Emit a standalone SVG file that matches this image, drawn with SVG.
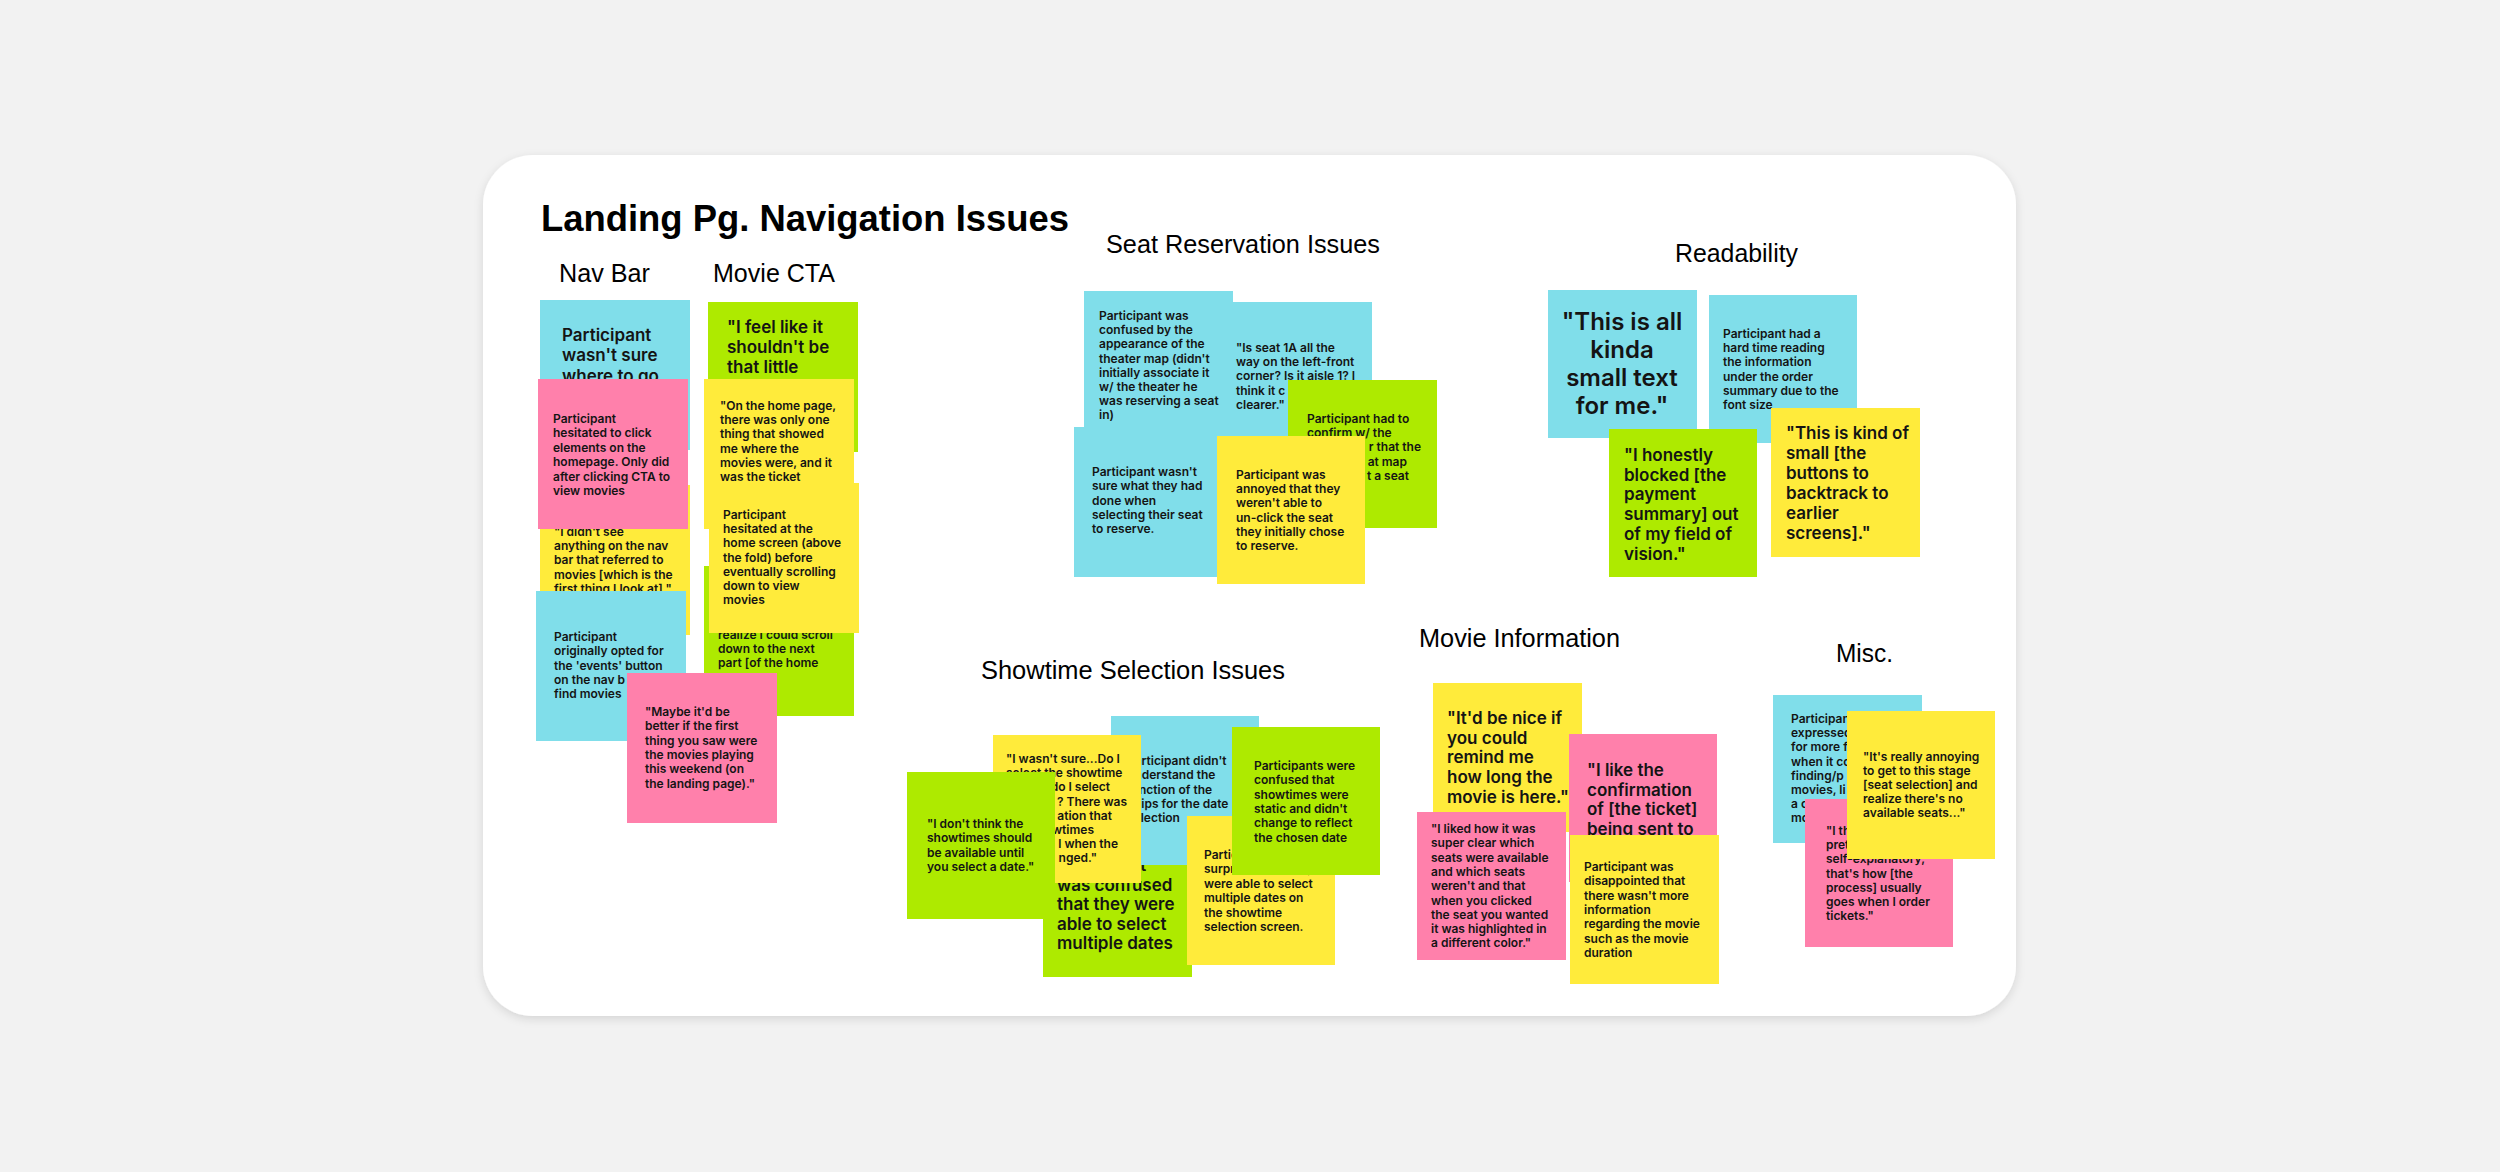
<svg xmlns="http://www.w3.org/2000/svg" width="2500" height="1172" viewBox="0 0 2500 1172">
<style>
.bg{fill:#f2f2f2}
.card{fill:#ffffff}
.b{fill:#80deea}
.p{fill:#ff80ab}
.g{fill:#aeea00}
.y{fill:#ffeb3b}
text{font-family:"Inter","Open Sans","Liberation Sans",sans-serif;font-weight:600;fill:#141414}
.s{font-size:12px}
.m{font-size:17px}
.l{font-size:24px}
.h{font-family:"Liberation Sans",Arial,sans-serif;font-weight:400;font-size:25px;fill:#000}
.t{font-family:"Liberation Sans",Arial,sans-serif;font-weight:700;font-size:36px;fill:#000}
.e{text-anchor:end}
.c{text-anchor:middle}
</style>
<defs>
<filter id="sh" x="-5%" y="-5%" width="110%" height="115%">
<feDropShadow dx="0" dy="3" stdDeviation="5" flood-color="#000" flood-opacity="0.12"/>
</filter>
</defs>
<rect class="bg" x="0" y="0" width="2500" height="1172"/>
<rect class="card" x="483" y="155" width="1533" height="861" rx="50" ry="50" filter="url(#sh)"/>

<g id="headings">
<text class="t" x="541" y="231" textLength="528" lengthAdjust="spacingAndGlyphs">Landing Pg. Navigation Issues</text>
<text class="h" x="559" y="282" textLength="91" lengthAdjust="spacingAndGlyphs">Nav Bar</text>
<text class="h" x="713" y="282" textLength="122" lengthAdjust="spacingAndGlyphs">Movie CTA</text>
<text class="h" x="1106" y="253" textLength="274" lengthAdjust="spacingAndGlyphs">Seat Reservation Issues</text>
<text class="h" x="1675" y="262" textLength="123" lengthAdjust="spacingAndGlyphs">Readability</text>
<text class="h" x="981" y="679" textLength="304" lengthAdjust="spacingAndGlyphs">Showtime Selection Issues</text>
<text class="h" x="1419" y="647" textLength="201" lengthAdjust="spacingAndGlyphs">Movie Information</text>
<text class="h" x="1836" y="662" textLength="57" lengthAdjust="spacingAndGlyphs">Misc.</text>
</g>

<g id="connectors"></g>

<!-- Nav Bar -->
<g id="nav-1">
<rect class="b" x="540" y="300" width="150" height="150"/>
<text class="m" x="562" y="341"><tspan x="562">Participant</tspan><tspan x="562" dy="20.3">wasn't sure</tspan><tspan x="562" dy="20.3">where to go</tspan></text>
</g>
<g id="nav-3">
<rect class="y" x="540" y="485" width="150" height="150"/>
<text class="s" x="554" y="536"><tspan x="554">"I didn't see</tspan><tspan x="554" dy="14.2">anything on the nav</tspan><tspan x="554" dy="14.2">bar that referred to</tspan><tspan x="554" dy="14.2">movies [which is the</tspan><tspan x="554" dy="14.2">first thing I look at]."</tspan></text>
</g>
<g id="nav-2">
<rect class="p" x="538" y="379" width="150" height="150"/>
<text class="s" x="553" y="423"><tspan x="553">Participant</tspan><tspan x="553" dy="14.4">hesitated to click</tspan><tspan x="553" dy="14.4">elements on the</tspan><tspan x="553" dy="14.4">homepage. Only did</tspan><tspan x="553" dy="14.4">after clicking CTA to</tspan><tspan x="553" dy="14.4">view movies</tspan></text>
</g>
<g id="nav-4">
<rect class="b" x="536" y="591" width="150" height="150"/>
<text class="s" x="554" y="641"><tspan x="554">Participant</tspan><tspan x="554" dy="14.3">originally opted for</tspan><tspan x="554" dy="14.3">the 'events' button</tspan><tspan x="554" dy="14.3">on the nav b</tspan><tspan x="554" dy="14.3">find movies</tspan></text>
</g>

<!-- Movie CTA -->
<g id="cta-1">
<rect class="g" x="708" y="302" width="150" height="150"/>
<text class="m" x="727" y="333"><tspan x="727">"I feel like it</tspan><tspan x="727" dy="20">shouldn't be</tspan><tspan x="727" dy="20">that little</tspan></text>
</g>
<g id="cta-2">
<rect class="y" x="704" y="379" width="150" height="150"/>
<text class="s" x="720" y="410"><tspan x="720">"On the home page,</tspan><tspan x="720" dy="14.2">there was only one</tspan><tspan x="720" dy="14.2">thing that showed</tspan><tspan x="720" dy="14.2">me where the</tspan><tspan x="720" dy="14.2">movies were, and it</tspan><tspan x="720" dy="14.2">was the ticket</tspan></text>
</g>
<g id="cta-4">
<rect class="g" x="704" y="566" width="150" height="150"/>
<text class="s" x="718" y="639"><tspan x="718">realize I could scroll</tspan><tspan x="718" dy="14">down to the next</tspan><tspan x="718" dy="14">part [of the home</tspan></text>
</g>
<g id="cta-3">
<rect class="y" x="709" y="483" width="150" height="150"/>
<text class="s" x="723" y="519"><tspan x="723">Participant</tspan><tspan x="723" dy="14.2">hesitated at the</tspan><tspan x="723" dy="14.2">home screen (above</tspan><tspan x="723" dy="14.2">the fold) before</tspan><tspan x="723" dy="14.2">eventually scrolling</tspan><tspan x="723" dy="14.2">down to view</tspan><tspan x="723" dy="14.2">movies</tspan></text>
</g>
<g id="nav-5">
<rect class="p" x="627" y="673" width="150" height="150"/>
<text class="s" x="645" y="716"><tspan x="645">"Maybe it'd be</tspan><tspan x="645" dy="14.3">better if the first</tspan><tspan x="645" dy="14.3">thing you saw were</tspan><tspan x="645" dy="14.3">the movies playing</tspan><tspan x="645" dy="14.3">this weekend (on</tspan><tspan x="645" dy="14.3">the landing page)."</tspan></text>
</g>

<!-- Seat Reservation -->
<g id="seat-2">
<rect class="b" x="1221" y="302" width="151" height="150"/>
<text class="s" x="1236" y="352"><tspan x="1236">"Is seat 1A all the</tspan><tspan x="1236" dy="14.2">way on the left-front</tspan><tspan x="1236" dy="14.2">corner? Is it aisle 1? I</tspan><tspan x="1236" dy="14.2">think it c</tspan><tspan x="1236" dy="14.2">clearer."</tspan></text>
</g>
<g id="seat-1">
<rect class="b" x="1084" y="291" width="149" height="150"/>
<text class="s" x="1099" y="320"><tspan x="1099">Participant was</tspan><tspan x="1099" dy="14.2">confused by the</tspan><tspan x="1099" dy="14.2">appearance of the</tspan><tspan x="1099" dy="14.2">theater map (didn't</tspan><tspan x="1099" dy="14.2">initially associate it</tspan><tspan x="1099" dy="14.2">w/ the theater he</tspan><tspan x="1099" dy="14.2">was reserving a seat</tspan><tspan x="1099" dy="14.2">in)</tspan></text>
</g>
<g id="seat-3">
<rect class="b" x="1074" y="427" width="150" height="150"/>
<text class="s" x="1092" y="476"><tspan x="1092">Participant wasn't</tspan><tspan x="1092" dy="14.3">sure what they had</tspan><tspan x="1092" dy="14.3">done when</tspan><tspan x="1092" dy="14.3">selecting their seat</tspan><tspan x="1092" dy="14.3">to reserve.</tspan></text>
</g>
<g id="seat-4">
<rect class="g" x="1288" y="380" width="149" height="148"/>
<text class="s" x="1307" y="423"><tspan x="1307">Participant had to</tspan><tspan x="1307" dy="14.3">confirm w/ the</tspan></text>
<text class="s e" x="1421" y="451">r that the</text>
<text class="s e" x="1407" y="466">at map</text>
<text class="s e" x="1409" y="480">t a seat</text>
</g>
<g id="seat-5">
<rect class="y" x="1217" y="436" width="148" height="148"/>
<text class="s" x="1236" y="479"><tspan x="1236">Participant was</tspan><tspan x="1236" dy="14.2">annoyed that they</tspan><tspan x="1236" dy="14.2">weren't able to</tspan><tspan x="1236" dy="14.2">un-click the seat</tspan><tspan x="1236" dy="14.2">they initially chose</tspan><tspan x="1236" dy="14.2">to reserve.</tspan></text>
</g>

<!-- Readability -->
<g id="read-1">
<rect class="b" x="1548" y="290" width="149" height="148"/>
<text class="l c" x="1622" y="330"><tspan x="1622">"This is all</tspan><tspan x="1622" dy="28">kinda</tspan><tspan x="1622" dy="28">small text</tspan><tspan x="1622" dy="28">for me."</tspan></text>
</g>
<g id="read-2">
<rect class="b" x="1709" y="295" width="148" height="148"/>
<text class="s" x="1723" y="338"><tspan x="1723">Participant had a</tspan><tspan x="1723" dy="14.2">hard time reading</tspan><tspan x="1723" dy="14.2">the information</tspan><tspan x="1723" dy="14.2">under the order</tspan><tspan x="1723" dy="14.2">summary due to the</tspan><tspan x="1723" dy="14.2">font size</tspan></text>
</g>
<g id="read-3">
<rect class="g" x="1609" y="429" width="148" height="148"/>
<text class="m" x="1624" y="461"><tspan x="1624">"I honestly</tspan><tspan x="1624" dy="19.7">blocked [the</tspan><tspan x="1624" dy="19.7">payment</tspan><tspan x="1624" dy="19.7">summary] out</tspan><tspan x="1624" dy="19.7">of my field of</tspan><tspan x="1624" dy="19.7">vision."</tspan></text>
</g>
<g id="read-4">
<rect class="y" x="1771" y="408" width="149" height="149"/>
<text class="m" x="1786" y="439"><tspan x="1786">"This is kind of</tspan><tspan x="1786" dy="20">small [the</tspan><tspan x="1786" dy="20">buttons to</tspan><tspan x="1786" dy="20">backtrack to</tspan><tspan x="1786" dy="20">earlier</tspan><tspan x="1786" dy="20">screens]."</tspan></text>
</g>

<!-- Showtime Selection -->
<g id="show-3">
<rect class="g" x="1043" y="827" width="149" height="150"/>
<text class="m" x="1057" y="871"><tspan x="1057">Participant</tspan><tspan x="1057" dy="19.5">was confused</tspan><tspan x="1057" dy="19.5">that they were</tspan><tspan x="1057" dy="19.5">able to select</tspan><tspan x="1057" dy="19.5">multiple dates</tspan></text>
</g>
<g id="show-2">
<rect class="b" x="1111" y="716" width="148" height="149"/>
<text class="s" x="1127" y="765"><tspan x="1127">Participant didn't</tspan><tspan x="1127" dy="14.3">understand the</tspan><tspan x="1127" dy="14.3">function of the</tspan><tspan x="1127" dy="14.3">chips for the date</tspan><tspan x="1127" dy="14.3">selection</tspan></text>
</g>
<g id="show-1">
<rect class="y" x="993" y="735" width="148" height="148"/>
<text class="s" x="1006" y="763"><tspan x="1006">"I wasn't sure...Do I</tspan><tspan x="1006" dy="14.2">select the showtime</tspan></text>
<text class="s e" x="1110" y="791">do I select</text>
<text class="s e" x="1127" y="806">? There was</text>
<text class="s e" x="1112" y="820">ation that</text>
<text class="s e" x="1094" y="834">wtimes</text>
<text class="s e" x="1118" y="848">l when the</text>
<text class="s e" x="1097" y="862">nged."</text>
</g>
<g id="show-4">
<rect class="g" x="907" y="772" width="148" height="147"/>
<text class="s" x="927" y="828"><tspan x="927">"I don't think the</tspan><tspan x="927" dy="14.4">showtimes should</tspan><tspan x="927" dy="14.4">be available until</tspan><tspan x="927" dy="14.4">you select a date."</tspan></text>
</g>
<g id="show-5">
<rect class="y" x="1187" y="816" width="148" height="149"/>
<text class="s" x="1204" y="859"><tspan x="1204">Participant was</tspan><tspan x="1204" dy="14.4">surprised that they</tspan><tspan x="1204" dy="14.4">were able to select</tspan><tspan x="1204" dy="14.4">multiple dates on</tspan><tspan x="1204" dy="14.4">the showtime</tspan><tspan x="1204" dy="14.4">selection screen.</tspan></text>
</g>
<g id="show-6">
<rect class="g" x="1232" y="727" width="148" height="148"/>
<text class="s" x="1254" y="770"><tspan x="1254">Participants were</tspan><tspan x="1254" dy="14.3">confused that</tspan><tspan x="1254" dy="14.3">showtimes were</tspan><tspan x="1254" dy="14.3">static and didn't</tspan><tspan x="1254" dy="14.3">change to reflect</tspan><tspan x="1254" dy="14.3">the chosen date</tspan></text>
</g>

<!-- Movie Information -->
<g id="info-1">
<rect class="y" x="1433" y="683" width="149" height="149"/>
<text class="m" x="1447" y="724"><tspan x="1447">"It'd be nice if</tspan><tspan x="1447" dy="19.7">you could</tspan><tspan x="1447" dy="19.7">remind me</tspan><tspan x="1447" dy="19.7">how long the</tspan><tspan x="1447" dy="19.7">movie is here."</tspan></text>
</g>
<g id="info-2">
<rect class="p" x="1569" y="734" width="148" height="148"/>
<text class="m" x="1587" y="776"><tspan x="1587">"I like the</tspan><tspan x="1587" dy="19.7">confirmation</tspan><tspan x="1587" dy="19.7">of [the ticket]</tspan><tspan x="1587" dy="19.7">being sent to</tspan></text>
</g>
<g id="info-3">
<rect class="p" x="1417" y="812" width="149" height="148"/>
<text class="s" x="1431" y="833"><tspan x="1431">"I liked how it was</tspan><tspan x="1431" dy="14.3">super clear which</tspan><tspan x="1431" dy="14.3">seats were available</tspan><tspan x="1431" dy="14.3">and which seats</tspan><tspan x="1431" dy="14.3">weren't and that</tspan><tspan x="1431" dy="14.3">when you clicked</tspan><tspan x="1431" dy="14.3">the seat you wanted</tspan><tspan x="1431" dy="14.3">it was highlighted in</tspan><tspan x="1431" dy="14.3">a different color."</tspan></text>
</g>
<g id="info-4">
<rect class="y" x="1570" y="835" width="149" height="149"/>
<text class="s" x="1584" y="871"><tspan x="1584">Participant was</tspan><tspan x="1584" dy="14.3">disappointed that</tspan><tspan x="1584" dy="14.3">there wasn't more</tspan><tspan x="1584" dy="14.3">information</tspan><tspan x="1584" dy="14.3">regarding the movie</tspan><tspan x="1584" dy="14.3">such as the movie</tspan><tspan x="1584" dy="14.3">duration</tspan></text>
</g>

<!-- Misc -->
<g id="misc-1">
<rect class="b" x="1773" y="695" width="149" height="148"/>
<text class="s" x="1791" y="723"><tspan x="1791">Participant</tspan><tspan x="1791" dy="14.2">expressed</tspan><tspan x="1791" dy="14.2">for more f</tspan><tspan x="1791" dy="14.2">when it co</tspan><tspan x="1791" dy="14.2">finding/p</tspan><tspan x="1791" dy="14.2">movies, li</tspan><tspan x="1791" dy="14.2">a c</tspan><tspan x="1791" dy="14.2">mo</tspan></text>
</g>
<g id="misc-2">
<rect class="p" x="1805" y="799" width="148" height="148"/>
<text class="s" x="1826" y="835"><tspan x="1826">"I think it's</tspan><tspan x="1826" dy="14.2">pretty</tspan><tspan x="1826" dy="14.2">self-explanatory,</tspan><tspan x="1826" dy="14.2">that's how [the</tspan><tspan x="1826" dy="14.2">process] usually</tspan><tspan x="1826" dy="14.2">goes when I order</tspan><tspan x="1826" dy="14.2">tickets."</tspan></text>
</g>
<g id="misc-3">
<rect class="y" x="1847" y="711" width="148" height="148"/>
<text class="s" x="1863" y="761"><tspan x="1863">"It's really annoying</tspan><tspan x="1863" dy="14.1">to get to this stage</tspan><tspan x="1863" dy="14.1">[seat selection] and</tspan><tspan x="1863" dy="14.1">realize there's no</tspan><tspan x="1863" dy="14.1">available seats..."</tspan></text>
</g>
</svg>
